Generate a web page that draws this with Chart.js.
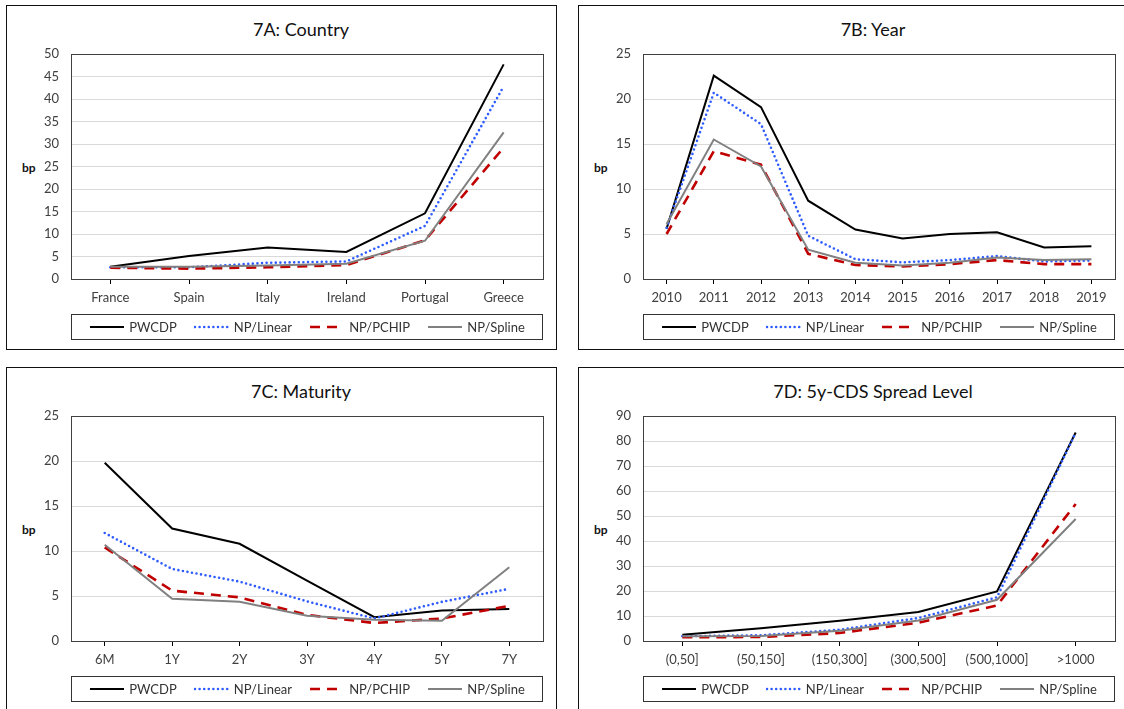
<!DOCTYPE html>
<html>
<head>
<meta charset="utf-8">
<script src="https://cdn.jsdelivr.net/npm/chart.js@4.4.1/dist/chart.umd.min.js"></script>
<style>
    html, body { margin: 0; padding: 0; background: #fff; overflow: hidden; }
    body { width: 1124px; height: 709px; position: relative; font-family: Lato, "Liberation Sans", sans-serif; }
    .panel { position: absolute; width: 551px; height: 345px; box-sizing: border-box; border: 1px solid #111; background: #fff; }
    .panel canvas { position: absolute; left: 0; top: 0; }
    .title { position: absolute; left: 184px; width: 220px; top: 12px; text-align: center; font-size: 18px; color: #111; }
    .bp { position: absolute; left: 15px; top: 154px; font-size: 12px; font-weight: bold; color: #111; }
    .legend { position: absolute; left: 64px; top: 308px; width: 472px; height: 26px; box-sizing: border-box;
              border: 1px solid #333; display: flex; justify-content: space-evenly; align-items: center; font-size: 13px; color: #333; }
    .legend .item { display: flex; align-items: center; }
    .legend svg { margin-right: 4px; }
</style>
</head>
<body>
<div class="panel" id="pA" style="left:6px;top:5px"></div>
<div class="panel" id="pB" style="left:578px;top:5px"></div>
<div class="panel" id="pC" style="left:6px;top:367px"></div>
<div class="panel" id="pD" style="left:578px;top:367px"></div>

<script>
// ============================================
// Datos de los cuatro paneles (bp)
// ============================================

const seriesNames = ['PWCDP', 'NP/Linear', 'NP/PCHIP', 'NP/Spline'];

// 7A: Country
const countries = ['France', 'Spain', 'Italy', 'Ireland', 'Portugal', 'Greece'];
const countryPWCDP  = [2.7, 5.1, 7.0, 6.0, 14.6, 47.7];
const countryLinear = [2.6, 2.6, 3.6, 3.9, 11.8, 42.8];
const countryPCHIP  = [2.5, 2.3, 2.6, 3.1, 8.6, 29.2];
const countrySpline = [2.7, 2.7, 3.0, 3.4, 8.5, 32.6];

// 7B: Year
const years = ['2010', '2011', '2012', '2013', '2014', '2015', '2016', '2017', '2018', '2019'];
const yearPWCDP  = [5.6, 22.6, 19.1, 8.7, 5.5, 4.5, 5.0, 5.2, 3.5, 3.65];
const yearLinear = [5.7, 20.7, 17.2, 4.8, 2.2, 1.85, 2.1, 2.55, 1.95, 2.05];
const yearPCHIP  = [5.0, 14.2, 12.7, 2.8, 1.55, 1.4, 1.65, 2.1, 1.65, 1.65];
const yearSpline = [6.1, 15.5, 12.5, 3.25, 1.8, 1.5, 1.8, 2.4, 2.1, 2.2];

// 7C: Maturity
const maturities = ['6M', '1Y', '2Y', '3Y', '4Y', '5Y', '7Y'];
const maturityPWCDP  = [19.8, 12.5, 10.8, 6.7, 2.65, 3.4, 3.55];
const maturityLinear = [12.0, 8.0, 6.6, 4.4, 2.5, 4.35, 5.8];
const maturityPCHIP  = [10.4, 5.6, 4.85, 2.9, 2.0, 2.5, 3.9];
const maturitySpline = [10.7, 4.7, 4.35, 2.8, 2.35, 2.25, 8.2];

// 7D: 5y-CDS Spread Level
const spreadLevels = ['(0,50]', '(50,150]', '(150,300]', '(300,500]', '(500,1000]', '>1000'];
const spreadPWCDP  = [2.5, 5.1, 8.1, 11.6, 19.8, 83.4];
const spreadLinear = [1.9, 2.3, 4.5, 9.2, 17.5, 83.3];
const spreadPCHIP  = [1.5, 1.6, 3.2, 7.3, 14.2, 54.8];
const spreadSpline = [1.9, 2.0, 4.1, 8.2, 16.5, 48.8];

// Ejes Y: máximo y paso
const yMaxA = 50, yStepA = 5;
const yMaxB = 25, yStepB = 5;
const yMaxC = 25, yStepC = 5;
const yMaxD = 90, yStepD = 10;

// Estilos de línea (estilo Excel)
const lineStyles = [
    { color: '#000000', width: 2,   dash: [],      cap: 'butt' },
    { color: '#2f5cff', width: 2.6, dash: [0, 4.6], cap: 'round' },
    { color: '#c00000', width: 2.6, dash: [10, 7], cap: 'butt' },
    { color: '#808080', width: 2,   dash: [],      cap: 'butt' }
];

// Marco del área de trazado
const plotFrame = {
    id: 'plotFrame',
    afterDatasetsDraw(chart) {
        const a = chart.chartArea;
        const ctx = chart.ctx;
        ctx.save();
        ctx.strokeStyle = '#404040';
        ctx.lineWidth = 1;
        ctx.strokeRect(Math.round(a.left) + 0.5, Math.round(a.top) + 0.5,
                       Math.round(a.right - a.left), Math.round(a.bottom - a.top));
        ctx.restore();
    }
};

function buildLegend(container) {
    const legend = document.createElement('div');
    legend.className = 'legend';
    seriesNames.forEach((name, i) => {
        const s = lineStyles[i];
        const item = document.createElement('div');
        item.className = 'item';
        const dash = s.dash.length ? `stroke-dasharray="${s.dash.join(',')}"` : '';
        item.innerHTML = `<svg width="36" height="6"><line x1="1" y1="3" x2="35" y2="3" stroke="${s.color}"
            stroke-width="${s.width}" stroke-linecap="${s.cap}" ${dash}/></svg><span>${name}</span>`;
        legend.appendChild(item);
    });
    container.appendChild(legend);
}

function makePanel(id, title, labels, series, yMax, yStep) {
    const panel = document.getElementById(id);
    panel.innerHTML = `<div class="title">${title}</div><span class="bp">bp</span>`;
    const canvas = document.createElement('canvas');
    canvas.width = 550;
    canvas.height = 344;
    panel.appendChild(canvas);
    buildLegend(panel);

    const tickFont = { family: 'Lato, "Liberation Sans", sans-serif', size: 13 };

    new Chart(canvas, {
        type: 'line',
        data: {
            labels: labels,
            datasets: series.map((values, i) => ({
                label: seriesNames[i],
                data: values,
                borderColor: lineStyles[i].color,
                borderWidth: lineStyles[i].width,
                borderDash: lineStyles[i].dash,
                borderCapStyle: lineStyles[i].cap,
                pointRadius: 0,
                tension: 0,
                fill: false,
                order: series.length - i
            }))
        },
        options: {
            responsive: false,
            animation: false,
            devicePixelRatio: 1,
            layout: { padding: { left: 24, right: 14, top: 48, bottom: 0 } },
            plugins: {
                legend: { display: false },
                tooltip: { enabled: false }
            },
            scales: {
                x: {
                    offset: true,
                    afterFit: (scale) => { scale.height = 71; },
                    border: { color: '#000', width: 1 },
                    grid: { offset: false, drawOnChartArea: false, drawTicks: true, tickLength: 5, color: '#000' },
                    ticks: { color: '#404040', font: tickFont, padding: 6, maxRotation: 0, autoSkip: false }
                },
                y: {
                    min: 0,
                    max: yMax,
                    afterFit: (scale) => { scale.width = 40; },
                    border: { color: '#000', width: 1 },
                    grid: { color: '#d9d9d9', drawTicks: false },
                    ticks: { stepSize: yStep, color: '#404040', font: tickFont, padding: 12 }
                }
            }
        },
        plugins: [plotFrame]
    });
}

makePanel('pA', '7A: Country', countries,
    [countryPWCDP, countryLinear, countryPCHIP, countrySpline], yMaxA, yStepA);
makePanel('pB', '7B: Year', years,
    [yearPWCDP, yearLinear, yearPCHIP, yearSpline], yMaxB, yStepB);
makePanel('pC', '7C: Maturity', maturities,
    [maturityPWCDP, maturityLinear, maturityPCHIP, maturitySpline], yMaxC, yStepC);
makePanel('pD', '7D: 5y-CDS Spread Level', spreadLevels,
    [spreadPWCDP, spreadLinear, spreadPCHIP, spreadSpline], yMaxD, yStepD);
</script>
</body>
</html>
